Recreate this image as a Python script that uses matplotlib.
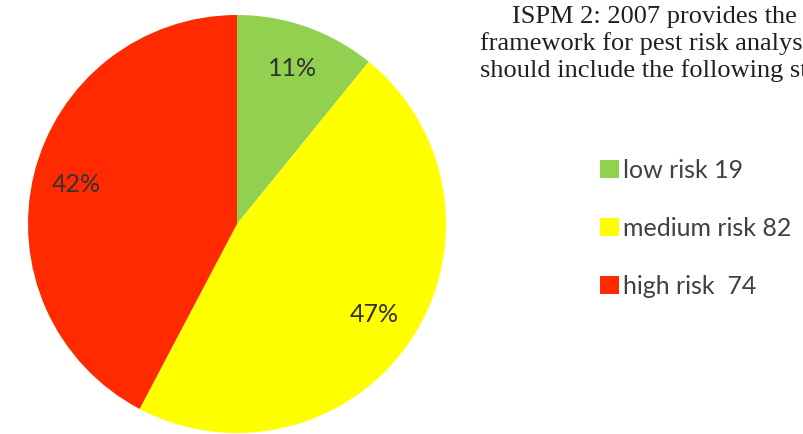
import matplotlib
matplotlib.use("Agg")
import matplotlib.pyplot as plt
from matplotlib.patches import Patch

# risk classes and counts
categories = ["low risk", "medium risk", "high risk"]
counts = [19, 82, 74]
legend_labels = ["low risk 19", "medium risk 82", "high risk  74"]
colors = ["#92D050", "#FFFF00", "#FF2A00"]

body_lines = [
    "ISPM 2: 2007 provides the conceptual",
    "framework for pest risk analysis and",
    "should include the following stages",
]

plt.rcParams["font.family"] = ["Lato", "DejaVu Sans"]

W, H = 804, 434
fig = plt.figure(figsize=(W / 100, H / 100), dpi=100)
fig.patch.set_facecolor("white")

# pie axes: center (237, 224) px, radius 209 px
cx, cy, r = 237, 224, 209
ax = fig.add_axes([(cx - r) / W, (H - cy - r) / H, 2 * r / W, 2 * r / H])
wedges, texts, autotexts = ax.pie(
    counts,
    colors=colors,
    startangle=90,
    counterclock=False,
    autopct=lambda p: "%d%%" % round(p),
    pctdistance=0.79,
    radius=1.0,
    textprops=dict(fontsize=18, color="#333333"),
)
ax.set_xlim(-1, 1)
ax.set_ylim(-1, 1)
ax.set_aspect("equal")
ax.axis("off")

# legend on the right
handles = [Patch(facecolor=c, edgecolor="none") for c in colors]
fig.legend(
    handles,
    legend_labels,
    loc="center left",
    bbox_to_anchor=(578 / W, 1 - 228 / H),
    frameon=False,
    fontsize=18,
    labelcolor="#404040",
    handlelength=0.75,
    handleheight=0.75,
    handletextpad=0.15,
    labelspacing=1.4,
)

# running text of the page, cut by the right edge
starts = [512, 480, 480]
ys = [17, 44, 71]
for line, x0, y0 in zip(body_lines, starts, ys):
    fig.text(x0 / W, 1 - y0 / H, line, fontsize=19, color="#231F20",
             family="Liberation Serif", va="center", ha="left")

fig.savefig("out.png", dpi=100)
